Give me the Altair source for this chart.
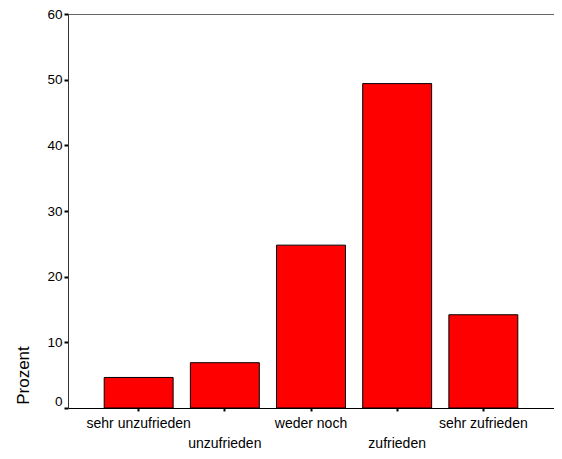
import altair as alt
import pandas as pd

categories = ["sehr unzufrieden", "unzufrieden", "weder noch", "zufrieden", "sehr zufrieden"]
percent = [4.65, 6.9, 24.8, 49.4, 14.2]
y_ticks = [0, 10, 20, 30, 40, 50, 60]

df = pd.DataFrame({"cat": categories, "pct": percent})

FONT = "Liberation Sans"

chart = alt.Chart(df).mark_bar(
    color="#FF0000", stroke="#000000", strokeWidth=1
).encode(
    x=alt.X(
        "cat:N", sort=categories, title=None,
        scale=alt.Scale(paddingInner=0.2, paddingOuter=0.42),
        axis=alt.Axis(
            labelAngle=0, labelFont=FONT, labelFontSize=14, labelColor="#000",
            tickSize=3, tickColor="#000", tickWidth=2,
            domainColor="#000", labelBaseline="top",
            labelPadding={"condition": {"test": "datum.value == 'unzufrieden' || datum.value == 'zufrieden'", "value": 25}, "value": 5},
        ),
    ),
    y=alt.Y(
        "pct:Q", title="Prozent",
        scale=alt.Scale(domain=[0, 60], nice=False),
        axis=alt.Axis(
            values=y_ticks, grid=False, labelFont=FONT, labelFontSize=13.5, labelColor="#000",
            tickSize=4, tickColor="#000", tickWidth=2, domainColor="#333", labelPadding=2,
            labelBaseline={"condition": {"test": "datum.value == 0", "value": "bottom"}, "value": "middle"},
            titleFont=FONT, titleFontSize=17, titleFontWeight="normal", titleColor="#000",
            titleX=-45, titleY=361, titleAlign="center", titleBaseline="middle", titleAngle=270,
        ),
    ),
).properties(
    width=486, height=394,
    autosize=alt.AutoSizeParams(type="none"),
    padding={"left": 60, "top": 6, "right": 0, "bottom": 42},
).configure_view(
    stroke="#666666", strokeWidth=1
)

chart.save("out.html", embed_options={"renderer": "svg", "actions": False})
